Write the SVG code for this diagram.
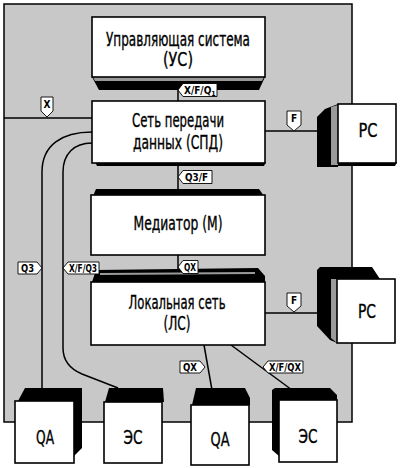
<svg xmlns="http://www.w3.org/2000/svg" width="400" height="468" viewBox="0 0 400 468">
<defs>
<style>
.bg{fill:#c8c8c8;stroke:#000;stroke-width:1.5}
.box{fill:#fff;stroke:#000;stroke-width:1.6}
.ext{fill:#000}
.strip{fill:#9a9a9a}
.ln{fill:none;stroke:#000;stroke-width:1.5}
.tag{fill:#fff;stroke:#000;stroke-width:0.9}
.t{font-family:"Liberation Sans Narrow","DejaVu Sans Condensed","Liberation Sans",sans-serif;font-size:19px;fill:#000;stroke:#000;stroke-width:0.35}
.s{font-family:"Liberation Sans Narrow","DejaVu Sans Condensed","Liberation Sans",sans-serif;font-size:10px;font-weight:bold;fill:#000}
</style>
</defs>
<rect class="bg" x="4" y="4" width="348" height="418"/>

<g id="connectors">
<line class="ln" x1="178" y1="77" x2="178" y2="101"/>
<line class="ln" x1="178" y1="163" x2="178" y2="190"/>
<line class="ln" x1="178" y1="255" x2="178" y2="270"/>
<line class="ln" x1="4" y1="118" x2="92" y2="118"/>
<line class="ln" x1="265" y1="131" x2="318" y2="131"/>
<line class="ln" x1="265" y1="313" x2="318" y2="313"/>
<path class="ln" d="M92,132 C62,132 42,145 42,172 L42,390"/>
<path class="ln" d="M92,143 C74,143 63,154 63,172 L63,348 Q63,366 82,374 L118,388"/>
<line class="ln" x1="204" y1="345" x2="212" y2="390"/>
<line class="ln" x1="231" y1="345" x2="292" y2="390"/>
</g>

<g id="us">
<path class="ext" d="M92,77 L265,77 L259,90 L99,90 Z"/>
<path class="strip" d="M93,77 L264,77 L262,81 L95,81 Z"/>
<rect class="box" x="92" y="17" width="173" height="60"/>
<text class="t" x="178" y="46" text-anchor="middle" textLength="144" lengthAdjust="spacingAndGlyphs">Управляющая система</text>
<text class="t" x="178" y="66" text-anchor="middle" textLength="30" lengthAdjust="spacingAndGlyphs">(УС)</text>
</g>

<g id="spd">
<path class="ext" d="M95,162 L266,162 L264,166 L97,166 Z"/>
<rect class="box" x="92" y="101" width="173" height="62"/>
<text class="t" x="178" y="127" text-anchor="middle" textLength="92" lengthAdjust="spacingAndGlyphs">Сеть передачи</text>
<text class="t" x="178" y="149" text-anchor="middle" textLength="90" lengthAdjust="spacingAndGlyphs">данных (СПД)</text>
</g>

<g id="m">
<path class="ext" d="M93,196 L96,189 L259,189 L264,196 Z"/>
<rect class="box" x="91" y="195" width="174" height="60"/>
<text class="t" x="178" y="230" text-anchor="middle" textLength="89" lengthAdjust="spacingAndGlyphs">Медиатор (М)</text>
</g>

<g id="ls">
<path class="ext" d="M92,282 L96,270 L258,268 L265,276 L265,282 Z"/>
<path class="strip" d="M100,273 L255,272 L255,274 L100,275 Z"/>
<rect class="box" x="91" y="282" width="174" height="63"/>
<text class="t" x="177" y="309" text-anchor="middle" textLength="97" lengthAdjust="spacingAndGlyphs">Локальная сеть</text>
<text class="t" x="177" y="330" text-anchor="middle" textLength="27" lengthAdjust="spacingAndGlyphs">(ЛС)</text>
</g>

<g id="pc1">
<path class="ext" d="M338,104 L325,109 L317,117 L317,167 L338,167 Z"/>
<path class="strip" d="M331,107 L338,105 L338,165 L331,165 Z"/>
<path class="ext" d="M338,162 L397,162 L395,166 L338,166 Z"/>
<rect class="box" x="338" y="104" width="58" height="59"/>
<text class="t" x="368" y="137" text-anchor="middle" textLength="19" lengthAdjust="spacingAndGlyphs">РС</text>
</g>

<g id="pc2">
<path class="ext" d="M317,270 L320,267 L372,267 L380,279 L337,279 L337,343 L330,340 L317,326 Z"/>
<path class="strip" d="M331,279 L337,279 L337,343 L331,338 Z"/>
<rect class="box" x="337" y="279" width="58" height="64"/>
<text class="t" x="367" y="318" text-anchor="middle" textLength="18" lengthAdjust="spacingAndGlyphs">РС</text>
</g>

<g id="qa1">
<path class="ext" d="M18,401 L25,388 L82,388 L82,448 L74,456 L74,401 Z"/>
<rect class="box" x="15" y="401" width="59" height="62"/>
<text class="t" x="45" y="444" text-anchor="middle" textLength="18" lengthAdjust="spacingAndGlyphs">QA</text>
</g>

<g id="es1">
<path class="ext" d="M105,402 L109,388 L163,388 L164,402 Z"/>
<rect class="box" x="104" y="402" width="58" height="61"/>
<text class="t" x="133" y="444" text-anchor="middle" textLength="19" lengthAdjust="spacingAndGlyphs">ЭС</text>
</g>

<g id="qa2">
<path class="ext" d="M192,405 L196,388 L245,388 L250,398 L250,405 Z"/>
<rect class="box" x="191" y="405" width="58" height="60"/>
<text class="t" x="220" y="446" text-anchor="middle" textLength="19" lengthAdjust="spacingAndGlyphs">QA</text>
</g>

<g id="es2">
<path class="ext" d="M272,390 L275,388 L330,388 L337,395 L337,400 L279,400 L279,456 L272,450 Z"/>
<rect class="box" x="279" y="400" width="58" height="62"/>
<text class="t" x="308" y="443" text-anchor="middle" textLength="19" lengthAdjust="spacingAndGlyphs">ЭС</text>
</g>

<g id="labels">
<path class="tag" d="M178,90 L183,83.5 L217,83.5 L217,96.5 L183,96.5 Z"/>
<text class="s" x="184" y="94">X/F/Q<tspan font-size="7" dy="2">1</tspan></text>
<path class="tag" d="M178,177 L183,170.5 L212,170.5 L212,183.5 L183,183.5 Z"/>
<text class="s" x="185" y="181" textLength="23" lengthAdjust="spacingAndGlyphs">Q3/F</text>
<path class="tag" d="M178,267 L183,260.5 L198,260.5 L198,273.5 L183,273.5 Z"/>
<text class="s" x="184" y="271" textLength="12" lengthAdjust="spacingAndGlyphs">QX</text>
<path class="tag" d="M18,262 L37,262 L42,268 L37,274 L18,274 Z"/>
<text class="s" x="21" y="272" textLength="13" lengthAdjust="spacingAndGlyphs">Q3</text>
<path class="tag" d="M63,268 L68,262 L99,262 L99,274 L68,274 Z"/>
<text class="s" x="69" y="272" textLength="28" lengthAdjust="spacingAndGlyphs">X/F/Q3</text>
<path class="tag" d="M180,361 L200,361 L205,367 L200,373 L180,373 Z"/>
<text class="s" x="183" y="371" textLength="14" lengthAdjust="spacingAndGlyphs">QX</text>
<path class="tag" d="M263,367 L268,361 L303,361 L303,373 L268,373 Z"/>
<text class="s" x="269" y="371" textLength="32" lengthAdjust="spacingAndGlyphs">X/F/QX</text>
<path class="tag" d="M41,97 L53,97 L53,111 L47,117 L41,111 Z"/>
<text class="s" x="47" y="108" text-anchor="middle">X</text>
<path class="tag" d="M287,111 L301,111 L301,125 L294,131 L287,125 Z"/>
<text class="s" x="294" y="122" text-anchor="middle">F</text>
<path class="tag" d="M287,293 L301,293 L301,306 L294,312 L287,306 Z"/>
<text class="s" x="294" y="304" text-anchor="middle">F</text>
</g>
</svg>
